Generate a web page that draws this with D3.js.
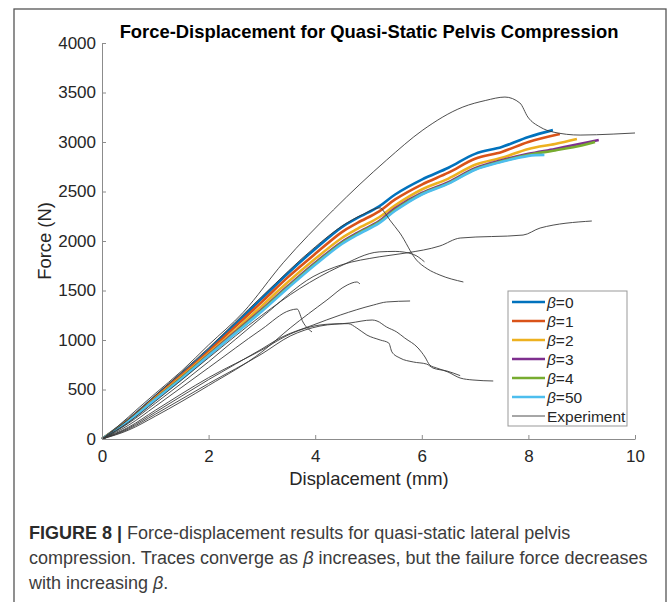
<!DOCTYPE html>
<html>
<head>
<meta charset="utf-8">
<script src="https://cdn.jsdelivr.net/npm/d3@7"></script>
<style>
  body { margin: 0; background: #fff; }
  svg { display: block; font-family: "Liberation Sans", Arial, sans-serif; }
</style>
</head>
<body>
<svg class="chart"></svg>
<script>
var width = 669,
    height = 602;

// simulations, [displacement mm, force N]
var beta0 = [[0,0],[0.5,200],[1,430],[1.5,660],[2,900],[2.5,1160],[3,1420],[3.5,1680],[4,1920],[4.5,2140],[4.8,2235],[5.2,2350],[5.5,2470],[6,2620],[6.5,2740],[7,2880],[7.5,2950],[8,3050],[8.46,3120]];
var beta1 = [[0,0],[0.5,195],[1,422],[1.5,648],[2,885],[2.5,1135],[3,1385],[3.5,1640],[4,1870],[4.5,2090],[4.8,2185],[5.2,2300],[5.5,2420],[6,2570],[6.5,2690],[7,2830],[7.5,2900],[8,3000],[8.59,3080]];
var beta2 = [[0,0],[0.5,190],[1,412],[1.5,635],[2,865],[2.5,1100],[3,1345],[3.5,1590],[4,1820],[4.5,2030],[4.8,2125],[5.2,2240],[5.5,2360],[6,2520],[6.5,2630],[7,2770],[7.5,2840],[8,2930],[8.5,2980],[8.91,3030]];
var beta3 = [[0,0],[0.5,185],[1,405],[1.5,622],[2,850],[2.5,1080],[3,1310],[3.5,1550],[4,1780],[4.5,1990],[4.8,2085],[5.2,2200],[5.5,2330],[6,2485],[6.5,2595],[7,2735],[7.5,2815],[8,2880],[8.5,2930],[9,2985],[9.32,3020]];
var beta4 = [[0,0],[0.5,183],[1,402],[1.5,618],[2,845],[2.5,1072],[3,1300],[3.5,1540],[4,1770],[4.5,1980],[4.8,2075],[5.2,2190],[5.5,2315],[6,2475],[6.5,2585],[7,2725],[7.5,2805],[8,2870],[8.5,2915],[9,2965],[9.25,3000]];
var beta50 = [[0,0],[0.5,180],[1,398],[1.5,612],[2,840],[2.5,1065],[3,1290],[3.5,1530],[4,1760],[4.5,1970],[4.8,2065],[5.2,2180],[5.5,2305],[6,2470],[6.5,2580],[7,2720],[7.5,2800],[8,2860],[8.3,2870]];

// experimental traces
var exp1 = [[0,0],[0.3,130],[0.7,320],[1,460],[1.5,690],[2,950],[2.65,1280],[3.4,1780],[4.34,2313],[5.34,2818],[6.02,3121],[6.77,3353],[7.2,3420],[7.56,3454],[7.84,3394],[7.99,3252],[8.22,3151],[8.46,3101],[8.97,3070],[9.59,3080],[10,3091]];
var exp2 = [[0,0],[0.5,200],[1,440],[2,920],[3,1440],[4,1940],[4.5,2150],[4.9,2270],[5.22,2335],[5.3,2290],[5.4,2212],[5.59,2080],[5.9,1808],[6.1,1720],[6.34,1656],[6.78,1586]];
var exp3 = [[0,0],[0.5,170],[1,380],[2,820],[3,1250],[3.71,1520],[4.45,1740],[5.2,1890],[5.5,1895],[5.84,1865],[6.05,1790]];
var exp4 = [[0,0],[0.5,160],[1,360],[2,780],[3,1230],[3.96,1640],[4.5,1760],[5.2,1840],[5.72,1880],[6.34,1950],[6.72,2030],[7.9,2060],[8.22,2131],[9.19,2202]];
var exp5 = [[0,0],[0.5,90],[1,230],[2,540],[3,880],[3.53,1121],[4.22,1404],[4.6,1555],[4.78,1586],[4.84,1566]];
var exp6 = [[0,0],[0.5,110],[1,270],[2,600],[3,910],[3.34,1020],[3.96,1151],[4.47,1252],[5.09,1353],[5.34,1384],[5.78,1394]];
var exp7 = [[0,0],[0.5,140],[1,330],[2,720],[3,1110],[3.53,1300],[3.66,1313],[3.77,1182],[3.94,1081]];
var exp8 = [[0,0],[0.5,100],[1,250],[2,560],[3,860],[3.53,1040],[4.09,1141],[4.65,1172],[5.07,1202],[5.16,1192],[5.34,1131],[5.53,1081],[5.68,1020],[5.93,919],[6.06,828],[6.15,747],[6.28,717],[6.49,677],[6.72,616],[6.96,596],[7.34,586]];
var exp9 = [[0,0],[0.5,120],[1,290],[2,620],[3,900],[3.53,1060],[3.9,1131],[4.28,1161],[4.62,1165],[4.78,1121],[4.97,1050],[5.22,1000],[5.38,970],[5.44,879],[5.59,818],[5.84,778],[6.09,757],[6.21,717],[6.47,687],[6.72,640]];

var simSeries = [beta0, beta1, beta2, beta3, beta4, beta50];
var simNames = ["0", "1", "2", "3", "4", "50"];
var simColors = ["#0072BD", "#D95319", "#EDB120", "#7E2F8E", "#77AC30", "#4DBEEE"];
var expSeries = [exp1, exp2, exp3, exp4, exp5, exp6, exp7, exp8, exp9];

var xTicks = [0, 2, 4, 6, 8, 10];
var yTicks = [0, 500, 1000, 1500, 2000, 2500, 3000, 3500, 4000];

var x = d3.scaleLinear().domain([0, 10]).range([102, 635]);
var y = d3.scaleLinear().domain([0, 4000]).range([439, 43]);

var chart = d3.select(".chart")
    .attr("width", width)
    .attr("height", height);

// figure frame
chart.append("rect")
    .attr("x", 14).attr("y", 9)
    .attr("width", 652).attr("height", 610)
    .attr("fill", "none")
    .attr("stroke", "#555")
    .attr("stroke-width", 1.3);

var simLine = d3.line()
    .x(function(d) { return x(d[0]); })
    .y(function(d) { return y(d[1]); })
    .curve(d3.curveCatmullRom);

var expLine = d3.line()
    .x(function(d) { return x(d[0]); })
    .y(function(d) { return y(d[1]); })
    .curve(d3.curveMonotoneX);

chart.selectAll(".sim")
    .data(simSeries)
  .enter().append("path")
    .attr("class", "sim")
    .attr("d", simLine)
    .attr("fill", "none")
    .attr("stroke", function(d, i) { return simColors[i]; })
    .attr("stroke-width", 2.6);

chart.selectAll(".exp")
    .data(expSeries)
  .enter().append("path")
    .attr("class", "exp")
    .attr("d", expLine)
    .attr("fill", "none")
    .attr("stroke", "#3a3a3a")
    .attr("stroke-width", 0.9);

// axes, ticks point inward
var xAxis = chart.append("g")
    .attr("transform", "translate(0,439)")
    .call(d3.axisBottom(x).tickValues(xTicks).tickFormat(d3.format("d"))
      .tickSizeInner(-4).tickSizeOuter(0).tickPadding(11));
var yAxis = chart.append("g")
    .attr("transform", "translate(102,0)")
    .call(d3.axisLeft(y).tickValues(yTicks).tickFormat(d3.format("d"))
      .tickSizeInner(-4).tickSizeOuter(0).tickPadding(6));

[xAxis, yAxis].forEach(function(a) {
  a.attr("font-size", 17).attr("font-family", "'Liberation Sans', Arial, sans-serif");
  a.select(".domain").attr("stroke", "#8c8c8c");
  a.selectAll(".tick line").attr("stroke", "#8c8c8c");
  a.selectAll(".tick text").attr("fill", "#262626");
});

chart.append("text")
    .attr("x", 369).attr("y", 38)
    .attr("text-anchor", "middle")
    .style("font-size", "18.4px")
    .style("font-weight", "bold")
    .attr("fill", "#000")
    .text("Force-Displacement for Quasi-Static Pelvis Compression");

chart.append("text")
    .attr("x", 369).attr("y", 485)
    .attr("text-anchor", "middle")
    .style("font-size", "18.4px")
    .attr("fill", "#262626")
    .text("Displacement (mm)");

chart.append("text")
    .attr("transform", "translate(51,241) rotate(-90)")
    .attr("text-anchor", "middle")
    .style("font-size", "18.4px")
    .attr("fill", "#262626")
    .text("Force (N)");

// legend
var legend = chart.append("g");
legend.append("rect")
    .attr("x", 508).attr("y", 291)
    .attr("width", 119).attr("height", 135)
    .attr("fill", "#fff")
    .attr("stroke", "#999")
    .attr("stroke-width", 1);

var items = simNames.map(function(n, i) { return { label: n, color: simColors[i], w: 2.6 }; });
items.push({ label: null, color: "#3a3a3a", w: 0.9 });

var item = legend.selectAll(".item")
    .data(items)
  .enter().append("g")
    .attr("transform", function(d, i) { return "translate(0," + (302 + i * 19) + ")"; });

item.append("line")
    .attr("x1", 512).attr("x2", 545)
    .attr("stroke", function(d) { return d.color; })
    .attr("stroke-width", function(d) { return d.w; });

var label = item.append("text")
    .attr("x", 547).attr("dy", "0.36em")
    .style("font-size", "15.5px")
    .attr("fill", "#262626");
label.filter(function(d) { return d.label === null; }).text("Experiment");
label.filter(function(d) { return d.label !== null; }).each(function(d) {
  var t = d3.select(this);
  t.append("tspan").style("font-style", "italic").text("\u03B2");
  t.append("tspan").text("=" + d.label);
});

// caption
var cap = chart.append("g").style("font-size", "18px").attr("fill", "#3c3c3c");
var l1 = cap.append("text").attr("x", 29).attr("y", 539);
l1.append("tspan").style("font-weight", "bold").attr("fill", "#2b2b2b").text("FIGURE 8 | ");
l1.append("tspan").text("Force-displacement results for quasi-static lateral pelvis");
var l2 = cap.append("text").attr("x", 29).attr("y", 564);
l2.append("tspan").text("compression. Traces converge as ");
l2.append("tspan").style("font-style", "italic").text("\u03B2");
l2.append("tspan").text(" increases, but the failure force decreases");
var l3 = cap.append("text").attr("x", 29).attr("y", 589);
l3.append("tspan").text("with increasing ");
l3.append("tspan").style("font-style", "italic").text("\u03B2");
l3.append("tspan").text(".");
</script>
</body>
</html>
